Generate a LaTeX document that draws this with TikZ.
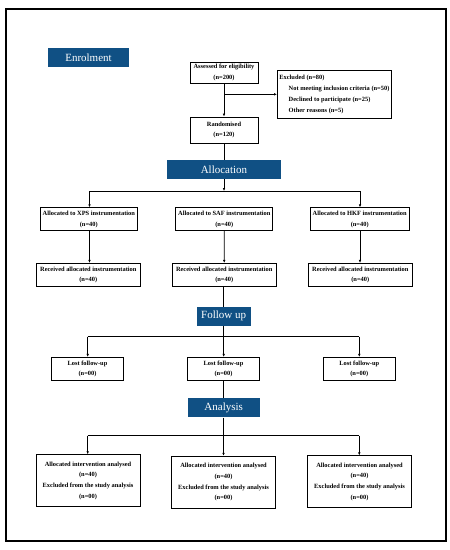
\documentclass[tikz,border=0pt]{standalone}
\usepackage{fontspec}
\setmainfont{Liberation Serif}
\usetikzlibrary{arrows.meta}
\definecolor{hdrblue}{RGB}{16,80,132}
\tikzset{
  box/.style={draw=black, line width=0.8pt, inner sep=1pt, align=center,
    font=\fontsize{6.4}{10.7}\selectfont\bfseries},
  hdr/.style={fill=hdrblue, text=white, inner sep=0pt, align=center,
    font=\fontsize{11}{12}\selectfont},
  conn/.style={line width=0.8pt, draw=black},
  arr/.style={conn, -{Latex[length=3pt,width=2.6pt]}}
}
\begin{document}
\begin{tikzpicture}[x=1pt,y=-1pt]
\useasboundingbox (0,0) rectangle (450,550);
\draw[line width=1.3pt] (6,9) rectangle (446,541);

% headers
\node[hdr, minimum width=81pt, minimum height=19pt] (enrol) at (88.5,57.5) {Enrolment};
\node[hdr, minimum width=114pt, minimum height=19pt] (alloc) at (224,169.3) {Allocation};
\node[hdr, minimum width=54pt, minimum height=19pt] (follow) at (223.7,316.2) {Follow up};
\node[hdr, minimum width=72pt, minimum height=19pt] (anahdr) at (223.7,407.8) {Analysis};

% enrolment
\node[box, minimum width=68pt, minimum height=21pt] (assess) at (224,72.5) {Assessed for eligibility\\(n=200)};
\node[box, minimum width=114pt, minimum height=47.6pt, align=left, anchor=west, inner sep=1.7pt] (excl) at (277,94.5)
  {Excluded (n=80)\\\hspace*{9.3pt}Not meeting inclusion criteria (n=50)\\\hspace*{9.3pt}Declined to participate (n=25)\\\hspace*{9.3pt}Other reasons (n=5)};
\node[box, minimum width=68pt, minimum height=26pt] (rand) at (224,130) {Randomised\\(n=120)};

% allocation
\node[box, minimum width=97pt, minimum height=23pt] (a1) at (88.8,219.2) {Allocated to XPS instrumentation\\(n=40)};
\node[box, minimum width=97pt, minimum height=23pt] (a2) at (224.3,219.2) {Allocated to SAF instrumentation\\(n=40)};
\node[box, minimum width=99pt, minimum height=23pt] (a3) at (359.7,219.2) {Allocated to HKF instrumentation\\(n=40)};

\node[box, minimum width=104pt, minimum height=23.4pt] (r1) at (88.3,275) {Received allocated instrumentation\\(n=40)};
\node[box, minimum width=104pt, minimum height=23.4pt] (r2) at (224.2,275) {Received allocated instrumentation\\(n=40)};
\node[box, minimum width=104pt, minimum height=23.4pt] (r3) at (360.3,275) {Received allocated instrumentation\\(n=40)};

% follow up
\node[box, minimum width=71.6pt, minimum height=23.4pt] (l1) at (87.5,369) {Lost follow-up\\(n=00)};
\node[box, minimum width=71.3pt, minimum height=23.4pt] (l2) at (223.5,369) {Lost follow-up\\(n=00)};
\node[box, minimum width=72pt, minimum height=23.4pt] (l3) at (359.3,369) {Lost follow-up\\(n=00)};

% analysis
\node[box, minimum width=104pt, minimum height=52pt] (n1) at (88,480.7) {Allocated intervention analysed\\(n=40)\\Excluded from the study analysis\\(n=00)};
\node[box, minimum width=104pt, minimum height=52pt] (n2) at (223.5,482.2) {Allocated intervention analysed\\(n=40)\\Excluded from the study analysis\\(n=00)};
\node[box, minimum width=104pt, minimum height=52pt] (n3) at (359.5,481.8) {Allocated intervention analysed\\(n=40)\\Excluded from the study analysis\\(n=00)};

% coordinates
\coordinate (e1) at (224,94.3);
\coordinate (b1) at (224,191);
\coordinate (b1l) at (89.5,191);
\coordinate (b1r) at (360,191);
\coordinate (b2) at (223.5,336.7);
\coordinate (b2l) at (87.7,336.7);
\coordinate (b2r) at (359.3,336.7);
\coordinate (b3) at (223.5,435.7);
\coordinate (b3l) at (87.7,435.7);
\coordinate (b3r) at (359.3,435.7);

% connectors
\draw[arr] (assess.south) -- (rand.north);
\draw[arr] (e1) -- (excl.west |- e1);
\draw[conn] (rand.south) -- (alloc.north);
\draw[arr] (alloc.south) -- (b1);
\draw[conn] (b1l) -- (b1r);
\draw[arr] (b1l) -- (b1l |- a1.north);
\draw[arr] (b1r) -- (b1r |- a3.north);
\draw[arr] (a1.south -| b1l) -- (b1l |- r1.north);
\draw[arr] (a2.south) -- (r2.north);
\draw[arr] (a3.south -| b1r) -- (b1r |- r3.north);
\draw[conn] (r2.south -| follow) -- (follow.north);
\draw[arr] (follow.south) -- (l2.north -| follow);
\draw[conn] (b2l) -- (b2r);
\draw[arr] (b2l) -- (b2l |- l1.north);
\draw[arr] (b2r) -- (b2r |- l3.north);
\draw[conn] (l2.south) -- (anahdr.north -| l2);
\draw[arr] (anahdr.south -| n2) -- (n2.north);
\draw[conn] (b3l) -- (b3r);
\draw[arr] (b3l) -- (b3l |- n1.north);
\draw[arr] (b3r) -- (b3r |- n3.north);
\end{tikzpicture}
\end{document}
